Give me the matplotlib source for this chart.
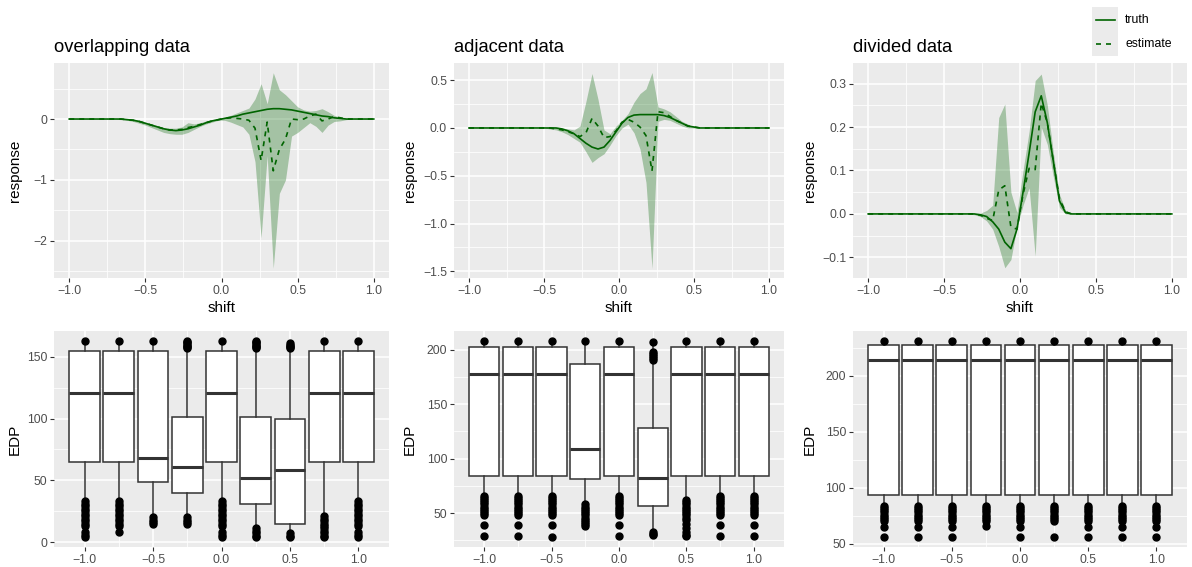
import numpy as np
import matplotlib
matplotlib.use("Agg")
import matplotlib.pyplot as plt
from matplotlib.ticker import MultipleLocator
from matplotlib.patches import Rectangle
from matplotlib.lines import Line2D

plt.rcParams['font.family'] = ['Liberation Sans', 'DejaVu Sans']

W, H = 1192, 567

# ---------------- top row: response curves ----------------
titles = ["overlapping data", "adjacent data", "divided data"]

shift_overlap = [-1.0, -0.70, -0.66, -0.62, -0.58, -0.54, -0.50, -0.46, -0.42, -0.38, -0.34,
                 -0.30, -0.26, -0.22, -0.18, -0.14, -0.10, -0.06, -0.02, 0.02, 0.06, 0.10,
                 0.14, 0.18, 0.22, 0.26, 0.30, 0.34, 0.38, 0.42, 0.46, 0.50, 0.54, 0.58,
                 0.62, 0.66, 0.70, 0.74, 0.78, 0.82, 0.86, 1.0]
truth_overlap = [0, 0, 0.00, -0.01, -0.02, -0.04, -0.07, -0.10, -0.13, -0.16, -0.18,
                 -0.19, -0.18, -0.16, -0.13, -0.10, -0.06, -0.03, -0.01, 0.01, 0.03, 0.05,
                 0.08, 0.10, 0.12, 0.14, 0.16, 0.17, 0.17, 0.16, 0.15, 0.13, 0.11, 0.09,
                 0.07, 0.05, 0.04, 0.02, 0.01, 0.00, 0, 0]
est_overlap = [0, 0, 0.00, -0.01, -0.02, -0.04, -0.07, -0.10, -0.13, -0.16, -0.18,
               -0.18, -0.17, -0.14, -0.12, -0.09, -0.06, -0.03, -0.01, 0.01, 0.02, 0.01,
               0.00, -0.02, -0.15, -0.68, -0.05, -0.85, -0.50, -0.33, 0.00, -0.01, 0.00, 0.05,
               0.08, -0.03, 0.00, 0.04, 0.02, 0.00, 0, 0]
lo_overlap = [0, 0, -0.01, -0.02, -0.04, -0.07, -0.10, -0.14, -0.18, -0.22, -0.24,
              -0.25, -0.25, -0.22, -0.17, -0.12, -0.08, -0.05, -0.02, -0.02, -0.05, -0.09,
              -0.13, -0.25, -0.70, -1.95, -0.60, -2.45, -1.22, -1.00, -0.28, -0.22, -0.14, -0.06,
              -0.12, -0.22, -0.10, -0.04, -0.03, -0.01, 0, 0]
hi_overlap = [0, 0, 0.01, 0.00, 0.00, -0.02, -0.05, -0.08, -0.11, -0.14, -0.15,
              -0.15, -0.13, -0.06, -0.08, -0.06, -0.03, -0.01, 0.01, 0.03, 0.06, 0.10,
              0.14, 0.18, 0.33, 0.58, 0.25, 0.76, 0.48, 0.40, 0.30, 0.20, 0.15, 0.13,
              0.14, 0.17, 0.12, 0.06, 0.03, 0.01, 0, 0]

shift_adjacent = [-1.0, -0.50, -0.46, -0.42, -0.38, -0.34, -0.30, -0.26, -0.22, -0.18, -0.14,
                  -0.10, -0.06, -0.02, 0.02, 0.06, 0.10, 0.14, 0.18, 0.22, 0.26, 0.30,
                  0.34, 0.38, 0.42, 0.46, 0.50, 0.54, 0.58, 1.0]
truth_adjacent = [0, 0, 0.00, 0.00, -0.01, -0.03, -0.06, -0.11, -0.16, -0.20, -0.22,
                  -0.20, -0.13, -0.04, 0.05, 0.11, 0.135, 0.14, 0.14, 0.14, 0.14, 0.13,
                  0.11, 0.08, 0.05, 0.02, 0.01, 0.00, 0, 0]
est_adjacent = [0, 0, 0.00, -0.01, -0.02, -0.04, -0.06, -0.09, -0.05, 0.10, 0.02,
                -0.10, -0.09, -0.03, 0.06, 0.09, 0.06, 0.01, -0.08, -0.45, 0.17, 0.16,
                0.12, 0.08, 0.05, 0.02, 0.01, 0.00, 0, 0]
lo_adjacent = [0, 0, -0.01, -0.02, -0.04, -0.07, -0.11, -0.15, -0.25, -0.36, -0.31,
               -0.27, -0.18, -0.08, 0.00, 0.04, -0.05, -0.22, -0.57, -1.47, 0.07, 0.09,
               0.08, 0.05, 0.02, 0.00, 0.00, 0, 0, 0]
hi_adjacent = [0, 0, 0.01, 0.01, 0.00, -0.01, -0.02, 0.02, 0.28, 0.57, 0.30,
               -0.02, -0.06, 0.02, 0.08, 0.15, 0.27, 0.36, 0.41, 0.58, 0.22, 0.20,
               0.17, 0.12, 0.07, 0.04, 0.01, 0, 0, 0]

shift_divided = [-1.0, -0.34, -0.30, -0.26, -0.22, -0.18, -0.14, -0.10, -0.06, -0.02, 0.02,
                 0.06, 0.10, 0.14, 0.18, 0.22, 0.26, 0.30, 0.34, 0.38, 1.0]
truth_divided = [0, 0, 0.000, -0.002, -0.006, -0.018, -0.035, -0.065, -0.080, -0.035, 0.05,
                 0.14, 0.235, 0.272, 0.21, 0.12, 0.03, 0.003, 0.0, 0, 0]
est_divided = [0, 0, 0.000, -0.003, -0.010, -0.015, 0.055, 0.065, -0.030, -0.035, 0.045,
               0.105, 0.102, 0.255, 0.21, 0.12, 0.035, 0.005, 0.0, 0, 0]
lo_divided = [0, 0, -0.002, -0.006, -0.016, -0.035, -0.075, -0.124, -0.105, -0.030, 0.02,
              0.06, -0.097, 0.20, 0.16, 0.085, 0.015, 0.0, 0.0, 0, 0]
hi_divided = [0, 0, 0.001, 0.002, 0.008, 0.020, 0.222, 0.253, 0.050, 0.003, 0.10,
              0.19, 0.307, 0.322, 0.25, 0.14, 0.045, 0.008, 0.001, 0, 0]

# ---------------- bottom row: EDP box plots ----------------
box_shift = [-1.0, -0.75, -0.5, -0.25, 0.0, 0.25, 0.5, 0.75, 1.0]

q1_overlap = [65, 65, 48.5, 40, 65, 30.5, 15, 64.5, 65]
med_overlap = [120.5, 120.5, 68.5, 60.5, 120.5, 52, 58.5, 120.5, 120.5]
q3_overlap = [154.5, 154.5, 154.5, 101, 154.5, 101, 100, 154.5, 154.5]
whi_overlap = [163, 163, 163, 163, 163, 163, 161, 163, 163]
wlo_overlap = [35, 34, 21, 20, 35, 12, 9, 22, 35]
out_overlap = [
    [163, 33, 31, 29, 27, 25, 23, 21, 19, 17, 15, 13, 8, 6, 4],
    [163, 33, 31, 29, 27, 25, 23, 21, 19, 17, 15, 13, 8],
    [163, 20, 18, 16, 15],
    [163, 162, 161, 160, 159, 158, 157, 20, 18, 16, 15],
    [163, 33, 31, 29, 27, 25, 23, 21, 19, 17, 15, 13, 8, 6, 4],
    [163, 162, 161, 160, 159, 158, 157, 11, 9, 7, 5, 4],
    [161, 160, 159, 158, 157, 7, 5, 4],
    [163, 21, 19, 17, 15, 13, 11, 9, 7, 5, 4],
    [163, 33, 31, 29, 27, 25, 23, 21, 19, 17, 15, 13, 8, 6, 4],
]

q1_adjacent = [84.5, 84.5, 84.5, 81, 84.5, 56.5, 84.5, 84.5, 84.5]
med_adjacent = [177.5, 177.5, 177.5, 109, 177.5, 82, 177.5, 177.5, 177.5]
q3_adjacent = [202, 202, 202, 187, 202, 128, 202, 202, 202]
whi_adjacent = [208, 208, 208, 208, 208, 208, 208, 208, 208]
wlo_adjacent = [67, 67, 68, 59, 67, 34, 63, 67, 67]
out_adjacent = [
    [208, 66, 64, 62, 60, 58, 56, 54, 52, 50, 48, 39, 29],
    [208, 66, 64, 62, 60, 58, 56, 54, 52, 50, 48, 39, 29],
    [208, 66, 64, 62, 60, 58, 56, 54, 52, 50, 48, 39, 28],
    [208, 58, 56, 54, 52, 50, 48, 46, 44, 42, 40, 38],
    [208, 66, 64, 62, 60, 58, 56, 54, 52, 50, 48, 39, 29],
    [207, 198, 196, 194, 192, 190, 33, 31, 30],
    [208, 62, 60, 58, 56, 54, 52, 50, 48, 46, 44, 40, 36, 33, 30, 29],
    [208, 66, 64, 62, 60, 58, 56, 54, 52, 50, 48, 39, 29],
    [208, 66, 64, 62, 60, 58, 56, 54, 52, 50, 48, 39, 29],
]

q1_divided = [93.2] * 9
med_divided = [214] * 9
q3_divided = [227.5] * 9
whi_divided = [231] * 9
wlo_divided = [85] * 9
out_divided = [
    [231, 84, 82, 80, 78, 76, 74, 72, 70, 65, 56],
    [231, 84, 82, 80, 78, 76, 74, 72, 70, 65, 56],
    [231, 84, 82, 80, 78, 76, 74, 72, 70, 65, 56],
    [231, 84, 82, 80, 78, 76, 74, 72, 70, 66],
    [231, 84, 82, 80, 78, 76, 74, 72, 70, 65, 56],
    [231, 84, 82, 80, 78, 76, 74, 72, 70, 56],
    [231, 84, 82, 80, 78, 76, 74, 72, 70, 65, 56],
    [231, 84, 82, 80, 78, 76, 74, 72, 70, 65, 56],
    [231, 84, 82, 80, 78, 76, 74, 72, 70, 65, 56],
]

# ---------------- figure ----------------
fig = plt.figure(figsize=(W / 100, H / 100), dpi=100)
fig.patch.set_facecolor('white')

GREEN = '#006400'
PANEL = '#EBEBEB'
DARK = '#333333'
TICKC = '#4D4D4D'


def px_axes(x0, y0, x1, y1):
    return fig.add_axes([x0 / W, 1 - y1 / H, (x1 - x0) / W, (y1 - y0) / H])


def fx(x):
    return x / W


def fy(y):
    return 1 - y / H


def style(ax, xlim, ylim, xmaj, ymaj):
    ax.set_facecolor(PANEL)
    for s in ax.spines.values():
        s.set_visible(False)
    ax.set_xlim(*xlim)
    ax.set_ylim(*ylim)
    ax.xaxis.set_major_locator(MultipleLocator(xmaj))
    ax.xaxis.set_minor_locator(MultipleLocator(xmaj / 2))
    ax.yaxis.set_major_locator(MultipleLocator(ymaj))
    ax.yaxis.set_minor_locator(MultipleLocator(ymaj / 2))
    ax.grid(which='major', color='white', linewidth=1.1)
    ax.grid(which='minor', color='white', linewidth=0.55)
    ax.set_axisbelow(True)
    ax.tick_params(which='major', length=2.75, width=0.8, color=DARK,
                   labelcolor=TICKC, labelsize=8.8, pad=2.2)
    ax.tick_params(which='minor', length=0)


cols = [(54, 389), (454, 784), (853, 1187)]
top_y = (63, 278)
bot_y = (331, 547)
ylab_x = [15, 410, 810]

top_data = [
    (shift_overlap, truth_overlap, est_overlap, lo_overlap, hi_overlap, (-2.61, 0.92), 1.0),
    (shift_adjacent, truth_adjacent, est_adjacent, lo_adjacent, hi_adjacent, (-1.57, 0.68), 0.5),
    (shift_divided, truth_divided, est_divided, lo_divided, hi_divided, (-0.1475, 0.3475), 0.1),
]

for i, (xs, tr, es, lo, hi, ylim, ymaj) in enumerate(top_data):
    x0, x1 = cols[i]
    ax = px_axes(x0, top_y[0], x1, top_y[1])
    style(ax, (-1.1, 1.1), ylim, 0.5, ymaj)
    ax.fill_between(xs, lo, hi, color=GREEN, alpha=0.3, linewidth=0, zorder=2)
    ax.plot(xs, tr, color=GREEN, linewidth=1.2, zorder=3)
    ax.plot(xs, es, color=GREEN, linewidth=1.2, dashes=(3, 3), zorder=3)
    fig.text(fx(x0), fy(52), titles[i], fontsize=13.2, ha='left', va='baseline', color='black')
    fig.text(fx((x0 + x1) / 2), fy(312), 'shift', fontsize=11, ha='center', va='baseline')
    fig.text(fx(ylab_x[i]), fy((top_y[0] + top_y[1]) / 2), 'response', fontsize=11,
             rotation=90, ha='center', va='center')

bot_data = [
    (q1_overlap, med_overlap, q3_overlap, wlo_overlap, whi_overlap, out_overlap, (-4, 171)),
    (q1_adjacent, med_adjacent, q3_adjacent, wlo_adjacent, whi_adjacent, out_adjacent, (19, 217)),
    (q1_divided, med_divided, q3_divided, wlo_divided, whi_divided, out_divided, (47.25, 239.75)),
]

for i, (q1, med, q3, wlo, whi, outs, ylim) in enumerate(bot_data):
    x0, x1 = cols[i]
    ax = px_axes(x0, bot_y[0], x1, bot_y[1])
    style(ax, (-1.224, 1.224), ylim, 0.5, 50)
    stats = [dict(med=med[k], q1=q1[k], q3=q3[k], whislo=wlo[k], whishi=whi[k],
                  fliers=outs[k]) for k in range(len(box_shift))]
    ax.bxp(stats, positions=box_shift, widths=0.225, patch_artist=True, showcaps=False,
           manage_ticks=False,
           boxprops=dict(facecolor='white', edgecolor=DARK, linewidth=1.1),
           medianprops=dict(color=DARK, linewidth=2.2, solid_capstyle='butt'),
           whiskerprops=dict(color=DARK, linewidth=1.1),
           flierprops=dict(marker='o', markerfacecolor='black', markeredgecolor='black',
                           markersize=5, linestyle='none'))
    fig.text(fx(ylab_x[i]), fy((bot_y[0] + bot_y[1]) / 2), 'EDP', fontsize=11,
             rotation=90, ha='center', va='center')

# ---------------- legend ----------------
lax = px_axes(1092, 7, 1118, 56)
lax.set_xlim(0, 1)
lax.set_ylim(0, 1)
lax.axis('off')
lax.add_patch(Rectangle((0, 0), 1, 1, facecolor=PANEL, edgecolor='none'))
lax.add_line(Line2D([0.17, 0.87], [0.735, 0.735], color=GREEN, linewidth=1.2))
lax.add_line(Line2D([0.17, 0.87], [0.245, 0.245], color=GREEN, linewidth=1.2, dashes=(3, 3)))
fig.text(fx(1125), fy(20), 'truth', fontsize=8.8, ha='left', va='center')
fig.text(fx(1125), fy(44), 'estimate', fontsize=8.8, ha='left', va='center')

fig.savefig('out.png', dpi=100, facecolor='white')
